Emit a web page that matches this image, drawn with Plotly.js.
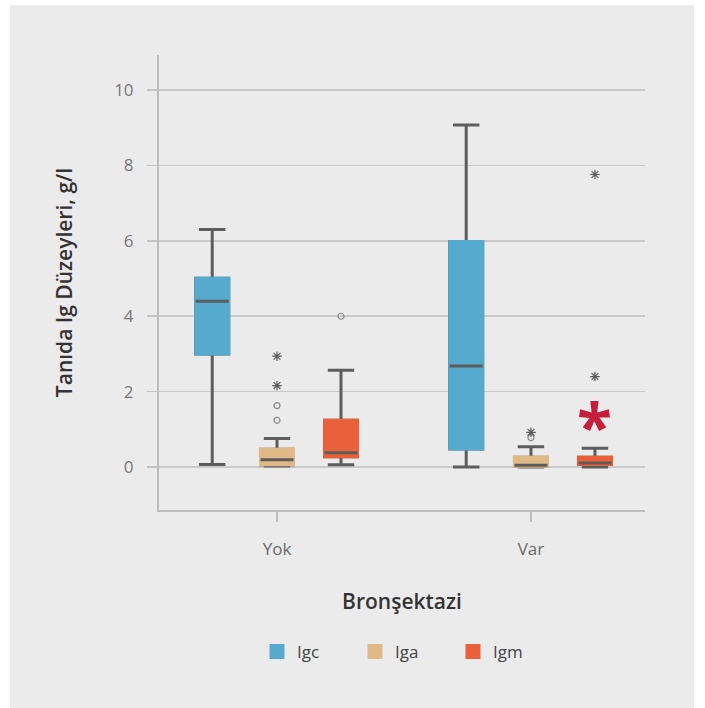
<!DOCTYPE html>
<html>
<head>
<meta charset="utf-8">
<script src="https://cdn.plot.ly/plotly-3.0.1.min.js"></script>
<style>
  html, body { margin: 0; padding: 0; background: #ffffff; }
  #chart { position: absolute; left: 10px; top: 5px; width: 684px; height: 703px; }
</style>
</head>
<body>
<div id="chart"></div>
<script>
// ---- data ----
const categories = ['Yok', 'Var'];
const seriesNames = ['Igc', 'Iga', 'Igm'];

const igcQ1 = [3.0, 0.48];
const igcMedian = [4.4, 2.68];
const igcQ3 = [5.01, 5.98];
const igcLow = [0.07, 0.0];
const igcHigh = [6.3, 9.07];

const igaQ1 = [0.06, 0.02];
const igaMedian = [0.19, 0.05];
const igaQ3 = [0.47, 0.26];
const igaLow = [0.03, 0.0];
const igaHigh = [0.76, 0.54];

const igmQ1 = [0.27, 0.07];
const igmMedian = [0.38, 0.11];
const igmQ3 = [1.24, 0.26];
const igmLow = [0.06, 0.0];
const igmHigh = [2.57, 0.5];

// outliers (circle = mild, star = extreme)
const igaCircleCat = ['Yok', 'Yok', 'Var'];
const igaCircleVal = [1.24, 1.63, 0.78];
const igaStarCat = ['Yok', 'Yok', 'Var'];
const igaStarVal = [2.16, 2.94, 0.92];
const igmCircleCat = ['Yok'];
const igmCircleVal = [4.0];
const igmStarCat = ['Var', 'Var'];
const igmStarVal = [2.4, 7.76];

// significance marker
const sigCat = 'Var';
const sigSeries = 'Igm';
const sigVal = 1.33;

const yTicks = [0, 2, 4, 6, 8, 10];

// ---- styles ----
const colors = { Igc: '#55aacd', Iga: '#e0ba86', Igm: '#e9603a' };
const offsets = { Igc: -0.255, Iga: 0, Igm: 0.252 };
const boxW = 0.13;
const gray = '#5d5d5d';
const font = 'Open Sans, DejaVu Sans, sans-serif';

const catIndex = c => categories.indexOf(c);

function boxTraces(name, q1, med, q3, lo, hi) {
  const x = categories.map((c, i) => i + offsets[name]);
  const common = { type: 'box', x: x, width: boxW, hoverinfo: 'skip', boxpoints: false };
  return [
    Object.assign({}, common, {
      q1: q1, median: med, q3: q3, lowerfence: lo, upperfence: hi,
      whiskerwidth: 0.8, line: { color: gray, width: 3 }, fillcolor: 'rgba(0,0,0,0)',
      showlegend: false, name: name
    }),
    Object.assign({}, common, {
      q1: q1, median: med, q3: q3, lowerfence: q1, upperfence: q3,
      whiskerwidth: 0, line: { color: colors[name], width: 3 }, fillcolor: colors[name],
      showlegend: true, name: name
    }),
    Object.assign({}, common, {
      q1: med, median: med, q3: med, lowerfence: med, upperfence: med,
      whiskerwidth: 0, line: { color: gray, width: 3 }, fillcolor: gray,
      showlegend: false, name: name
    })
  ];
}

function outlierTrace(name, cats, vals, kind) {
  return {
    type: 'scatter', mode: 'markers',
    x: cats.map(c => catIndex(c) + offsets[name]),
    y: vals,
    showlegend: false, hoverinfo: 'skip',
    marker: kind === 'star'
      ? { symbol: 'asterisk-open', size: 8, line: { color: '#5a5a5a', width: 1.2 }, color: '#5a5a5a' }
      : { symbol: 'circle-open', size: 6, line: { color: '#8a8a8a', width: 1.2 }, color: '#8a8a8a' }
  };
}

const data = []
  .concat(boxTraces('Igc', igcQ1, igcMedian, igcQ3, igcLow, igcHigh))
  .concat(boxTraces('Iga', igaQ1, igaMedian, igaQ3, igaLow, igaHigh))
  .concat(boxTraces('Igm', igmQ1, igmMedian, igmQ3, igmLow, igmHigh))
  .concat([
    outlierTrace('Iga', igaCircleCat, igaCircleVal, 'circle'),
    outlierTrace('Iga', igaStarCat, igaStarVal, 'star'),
    outlierTrace('Igm', igmCircleCat, igmCircleVal, 'circle'),
    outlierTrace('Igm', igmStarCat, igmStarVal, 'star')
  ]);

const layout = {
  width: 684, height: 703,
  paper_bgcolor: '#ebebeb', plot_bgcolor: '#ebebeb',
  margin: { l: 149, r: 49, t: 50, b: 198 },
  boxmode: 'overlay',
  font: { family: font, color: '#555' },
  showlegend: true,
  xaxis: {
    type: 'linear',
    range: [-0.4646, 1.449],
    tickvals: categories.map((c, i) => i),
    ticktext: categories,
    ticks: 'outside', ticklen: 10, tickwidth: 2, tickcolor: '#bdbdbd',
    ticklabelstandoff: 13,
    showgrid: false, zeroline: false,
    showline: true, linecolor: '#bdbdbd', linewidth: 2,
    tickfont: { family: font, size: 17, color: '#6a6a6a' },
    title: { text: 'Bronşektazi', font: { family: font, size: 21, color: '#333', weight: 600 }, standoff: 35 }
  },
  yaxis: {
    range: [-1.14, 10.93],
    tickvals: yTicks,
    ticks: 'outside', ticklen: 10, tickwidth: 1.5, tickcolor: '#c4c4c4',
    ticklabelstandoff: 10,
    showgrid: true, gridcolor: '#c9c9c9', gridwidth: 1.5,
    zeroline: false,
    showline: true, linecolor: '#bdbdbd', linewidth: 2,
    tickfont: { family: font, size: 17, color: '#777777' },
    title: { text: 'Tanıda Ig Düzeyleri, g/l', font: { family: font, size: 21, color: '#333', weight: 600 }, standoff: 36 }
  },
  legend: {
    orientation: 'h',
    x: 0.2016, xanchor: 'left',
    y: -0.312, yanchor: 'middle',
    entrywidth: 53,
    font: { family: font, size: 17, color: '#444' },
    bgcolor: 'rgba(0,0,0,0)'
  },
  annotations: [{
    x: catIndex(sigCat) + offsets[sigSeries], y: sigVal,
    xref: 'x', yref: 'y',
    text: '*', showarrow: false,
    font: { family: font, size: 64, color: '#c41e3a', weight: 700 },
    yshift: -9
  }]
};

Plotly.newPlot('chart', data, layout, { displayModeBar: false, staticPlot: true });
</script>
</body>
</html>
